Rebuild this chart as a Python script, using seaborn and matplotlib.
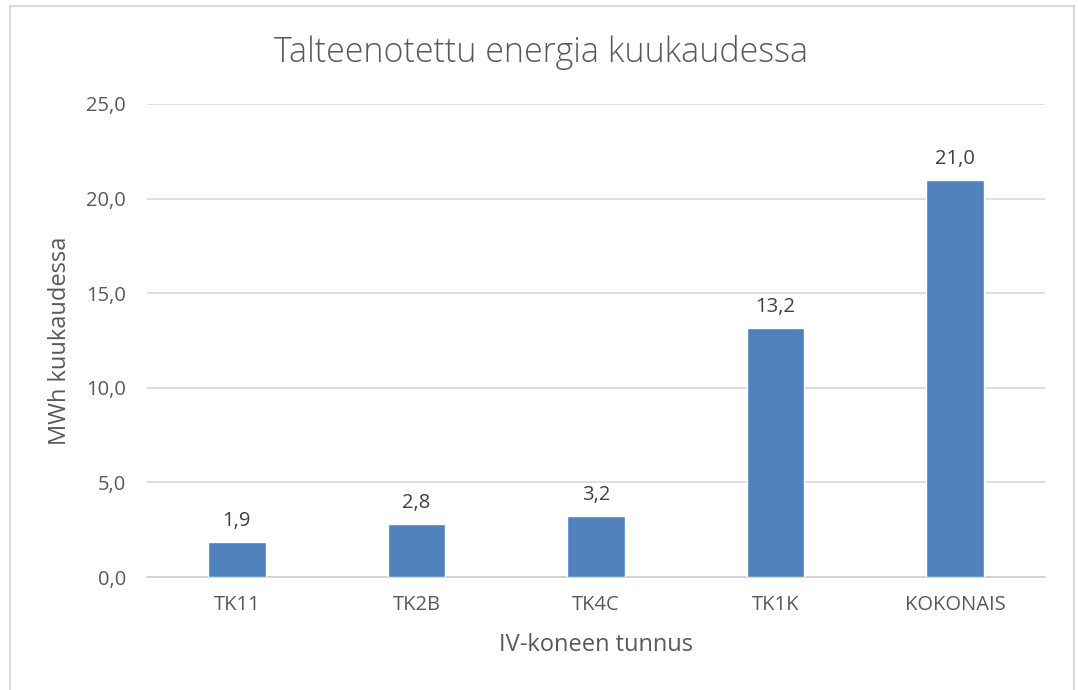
import matplotlib
matplotlib.use("Agg")
import matplotlib.pyplot as plt
import seaborn as sns
import pandas as pd
from matplotlib.ticker import FixedLocator, FuncFormatter

categories = ["TK11", "TK2B", "TK4C", "TK1K", "KOKONAIS"]
values = [1.86, 2.8, 3.2, 13.16, 21.0]
yticks = [0, 5, 10, 15, 20, 25]

sns.set_theme(style="white")
plt.rcParams['font.family'] = ['Open Sans', 'DejaVu Sans']

df = pd.DataFrame({"cat": categories, "val": values})

W, H = 1078, 690
fig = plt.figure(figsize=(W / 100, H / 100), dpi=100)
ax = fig.add_axes([147 / W, 1 - 577 / H, (1045 - 147) / W, (577 - 104) / H])

sns.barplot(data=df, x="cat", y="val", color="#4F81BD", width=0.32, ax=ax,
            saturation=1, zorder=3)

ax.set_ylim(0, 25)
ax.yaxis.set_major_locator(FixedLocator(yticks))
ax.yaxis.set_major_formatter(FuncFormatter(lambda v, p: f"{v:.1f}".replace(".", ",")))
ax.grid(axis="y", color="#D9D9D9", linewidth=1.2, zorder=0)
ax.set_xlim(-0.5, len(categories) - 0.5)

for s in ["top", "right", "left"]:
    ax.spines[s].set_visible(False)
ax.spines["bottom"].set_color("#D0D0D0")
ax.spines["bottom"].set_linewidth(1.2)
ax.tick_params(axis="y", length=0, labelsize=14.5, colors="#595959", pad=15)
ax.tick_params(axis="x", length=0, labelsize=14.5, colors="#595959", pad=13)

for i, v in enumerate(values):
    ax.annotate(f"{v:.1f}".replace(".", ","), (i, v), xytext=(0, 8),
                textcoords="offset points", ha="center", va="bottom",
                fontsize=14.5, color="#404040")

ax.set_xlabel("IV-koneen tunnus", fontsize=17, color="#595959", labelpad=13)
ax.set_ylabel("MWh kuukaudessa", fontsize=17, color="#595959", labelpad=10)

fig.text(541 / W, 1 - 52 / H, "Talteenotettu energia kuukaudessa", ha="center", va="center",
         fontsize=24.5, color="#595959", fontweight="light")

border = plt.Rectangle((10 / W, -0.01), (1074 - 10) / W, 1.01 - 6 / H,
                       transform=fig.transFigure, fill=False,
                       edgecolor="#D9D9D9", linewidth=1.5)
fig.add_artist(border)

fig.savefig("out.png", dpi=100, facecolor="white")
